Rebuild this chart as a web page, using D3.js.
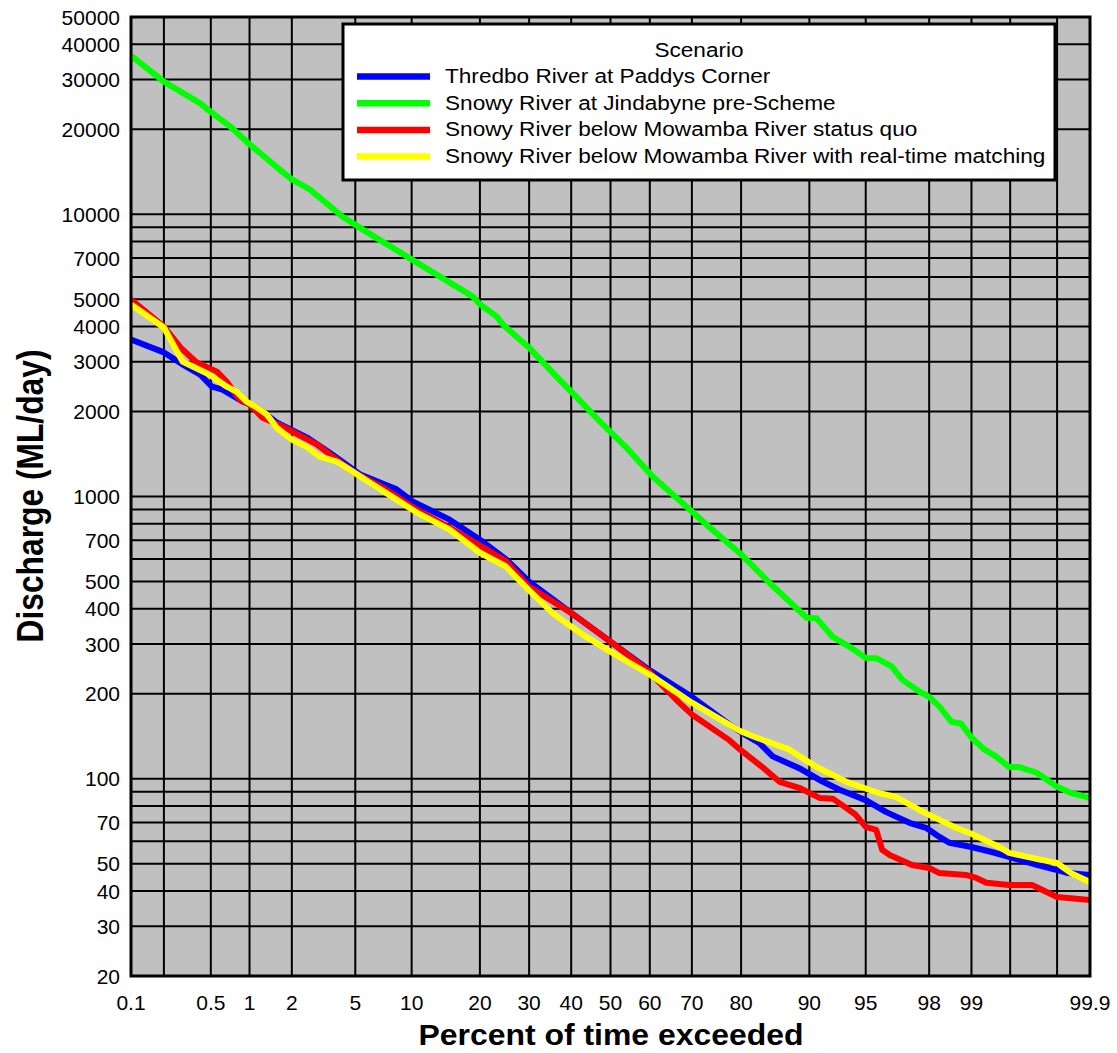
<!DOCTYPE html>
<html><head><meta charset="utf-8">
<script src="https://cdn.jsdelivr.net/npm/d3@7"></script>
<style>body{margin:0;background:#fff}text{font-family:"Liberation Sans",Arial,sans-serif}</style>
</head><body><svg id="c" width="1117" height="1053"></svg>
<script>
// ---------- data ----------
const seriesNames = [
  "Thredbo River at Paddys Corner",
  "Snowy River at Jindabyne pre-Scheme",
  "Snowy River below Mowamba River status quo",
  "Snowy River below Mowamba River with real-time matching"
];
const seriesColors = ["#0000ff", "#00ff00", "#ff0000", "#ffff00"];

// [percent of time exceeded, discharge ML/day]
const thredbo = [[0.1,3600],[0.2,3240],[0.29,2940],[0.41,2700],[0.51,2450],[0.62,2390],[0.89,2170],[1.13,2070],[1.57,1830],[2.51,1620],[3.52,1430],[5.3,1200],[8.4,1060],[10.1,960],[15,828],[20,703],[25,600],[30,499],[40,387],[50,306],[60,242],[70,195],[78.4,153],[80,146],[83.1,134],[85.2,120],[88.8,109],[91.1,99],[93,91.4],[95,84],[96.2,76.3],[97.3,69.8],[97.9,67],[98.3,62.2],[98.55,59.3],[99,57.3],[99.3,55],[99.52,52.4],[99.7,49.5],[99.8,47.5],[99.84,46.3],[99.9,45.6]];
const preScheme = [[0.1,36500],[0.2,29500],[0.41,24700],[0.49,23200],[0.71,20500],[1,17700],[1.65,14400],[2,13300],[2.63,12250],[4.2,9820],[5.5,8840],[9.8,6980],[14,5930],[18.7,5120],[20,4800],[23.2,4340],[24.4,4070],[27.9,3600],[30,3370],[36.4,2660],[42,2200],[48,1800],[54.1,1490],[60.7,1177],[68.8,920],[74.4,763],[79.7,632],[84.7,495],[89.7,372],[90.8,370],[92.4,318],[93.8,294],[95,268],[95.7,267],[96.5,250],[97,224],[97.7,203],[98,195],[98.3,180],[98.6,159],[98.8,157],[99,140],[99.2,127],[99.35,120],[99.49,110],[99.58,110],[99.7,105],[99.8,93.6],[99.85,89],[99.9,85.5]];
const statusQuo = [[0.1,4990],[0.2,4000],[0.28,3370],[0.38,2990],[0.56,2770],[0.67,2550],[0.84,2210],[1,2120],[1.25,1900],[1.73,1770],[2.92,1530],[3.67,1385],[4.84,1225],[7.1,1075],[10.6,898],[15,776],[20,670],[25,590],[30,479],[40,387],[50,306],[60,239],[62.4,219],[67.1,186],[70,169],[77.8,137],[80,126],[83.6,110],[86.2,97.5],[88.8,92.9],[91.1,85.5],[92.4,85],[93.2,80.8],[94.3,74.5],[95,67.5],[95.66,65.9],[96,56],[96.4,53.7],[97.4,49.5],[98,48.3],[98.3,46.3],[98.9,45.6],[99.08,44.5],[99.23,42.8],[99.49,42],[99.67,42],[99.8,38.1],[99.9,37.2]];
const realTime = [[0.1,4790],[0.2,3970],[0.29,3010],[0.49,2700],[0.67,2450],[0.8,2350],[0.95,2170],[1.13,2070],[1.34,1950],[1.57,1755],[2,1590],[2.51,1500],[3.05,1385],[3.89,1330],[4.64,1245],[6.03,1120],[8.4,975],[10.6,877],[15,763],[20,632],[25,565],[27.3,515],[30,465],[35.4,387],[40,346],[43.8,318],[50,282],[52.3,270],[60,234],[70,186],[78.4,153],[80,147],[82.6,140],[87.5,127],[90.8,110],[93.6,97.5],[95.8,89],[96.7,86.2],[97.8,76.3],[98.3,71.5],[98.7,67],[99,63.8],[99.39,57.3],[99.49,54.6],[99.67,52.4],[99.8,50.3],[99.85,46.3],[99.9,43]];

// axis ticks / grid
const xTickLabels = [0.1,0.5,1,2,5,10,20,30,40,50,60,70,80,90,95,98,99,99.9];
const xGridValues = [0.2,0.5,1,2,5,10,20,30,40,50,60,70,80,90,95,98,99,99.5,99.8];
const yTickLabels = [20,30,40,50,70,100,200,300,400,500,700,1000,2000,3000,4000,5000,7000,10000,20000,30000,40000,50000];
const yGridValues = [30,40,50,60,70,80,90,100,200,300,400,500,600,700,800,900,1000,2000,3000,4000,5000,6000,7000,8000,9000,10000,20000,30000,40000];

// ---------- helpers ----------
function qnorm(p){
  const a=[-3.969683028665376e+01,2.209460984245205e+02,-2.759285104469687e+02,1.383577518672690e+02,-3.066479806614716e+01,2.506628277459239e+00];
  const b=[-5.447609879822406e+01,1.615858368580409e+02,-1.556989798598866e+02,6.680131188771972e+01,-1.328068155288572e+01];
  const c=[-7.784894002430293e-03,-3.223964580411365e-01,-2.400758277161838e+00,-2.549732539343734e+00,4.374664141464968e+00,2.938163982698783e+00];
  const d=[7.784695709041462e-03,3.224671290700398e-01,2.445134137142996e+00,3.754408661907416e+00];
  const pl=0.02425, ph=1-pl; let q,r;
  if(p<pl){q=Math.sqrt(-2*Math.log(p));return (((((c[0]*q+c[1])*q+c[2])*q+c[3])*q+c[4])*q+c[5])/((((d[0]*q+d[1])*q+d[2])*q+d[3])*q+1);}
  if(p<=ph){q=p-0.5;r=q*q;return (((((a[0]*r+a[1])*r+a[2])*r+a[3])*r+a[4])*r+a[5])*q/(((((b[0]*r+b[1])*r+b[2])*r+b[3])*r+b[4])*r+1);}
  q=Math.sqrt(-2*Math.log(1-p));return -(((((c[0]*q+c[1])*q+c[2])*q+c[3])*q+c[4])*q+c[5])/((((d[0]*q+d[1])*q+d[2])*q+d[3])*q+1);
}

const L=131, R=1090, T=17, B=976;
const zScale = d3.scaleLinear().domain([qnorm(0.001), qnorm(0.999)]).range([L, R]);
const x = p => zScale(qnorm(p/100));
const y = d3.scaleLog().domain([20, 50000]).range([B, T]);

const svg = d3.select("#c");
svg.append("rect").attr("width",1117).attr("height",1053).attr("fill","#fff");
svg.append("defs").append("clipPath").attr("id","clip")
  .append("rect").attr("x",L).attr("y",T).attr("width",R-L).attr("height",B-T);

svg.append("rect").attr("x",L).attr("y",T).attr("width",R-L).attr("height",B-T).attr("fill","#c0c0c0");

// grid
const grid = svg.append("g").attr("stroke","#000").attr("stroke-width",2);
grid.selectAll("line.v").data(xGridValues).join("line")
  .attr("x1",d=>x(d)).attr("x2",d=>x(d)).attr("y1",T).attr("y2",B);
grid.selectAll("line.h").data(yGridValues).join("line")
  .attr("y1",d=>y(d)).attr("y2",d=>y(d)).attr("x1",L).attr("x2",R);

// curves
const allSeries = [thredbo, preScheme, statusQuo, realTime];
const line = d3.line().x(d=>x(d[0])).y(d=>y(d[1]));
const lg = svg.append("g").attr("clip-path","url(#clip)");
allSeries.forEach((s,i)=>{
  lg.append("path").attr("d",line(s)).attr("fill","none")
    .attr("stroke",seriesColors[i]).attr("stroke-width",6)
    .attr("stroke-linejoin","round").attr("stroke-linecap","butt");
});

// border
svg.append("rect").attr("x",L).attr("y",T).attr("width",R-L).attr("height",B-T)
  .attr("fill","none").attr("stroke","#000").attr("stroke-width",3);

// y tick labels
svg.append("g").selectAll("text").data(yTickLabels).join("text")
  .attr("x",120).attr("y",d=>y(d)).attr("dy","0.36em").attr("text-anchor","end")
  .attr("font-size",21).attr("fill","#000").text(d=>d);

// x tick labels
svg.append("g").selectAll("text").data(xTickLabels).join("text")
  .attr("x",d=>x(d)).attr("y",1010).attr("text-anchor","middle")
  .attr("font-size",21).attr("fill","#000").text(d=>d);

function fit(t, w){ t.attr("textLength", w).attr("lengthAdjust","spacingAndGlyphs"); }

// axis titles
const xt = svg.append("text").attr("x",611).attr("y",1045).attr("text-anchor","middle")
  .attr("font-size",30).attr("font-weight","bold").text("Percent of time exceeded");
fit(xt, 385);
const yt = svg.append("text").attr("transform","translate(43,496) rotate(-90)").attr("text-anchor","middle")
  .attr("font-size",37).attr("font-weight","bold").text("Discharge (ML/day)");
fit(yt, 293);

// legend
const leg = svg.append("g");
leg.append("rect").attr("x",343).attr("y",24).attr("width",712).attr("height",156)
  .attr("fill","#fff").attr("stroke","#000").attr("stroke-width",3);
function stretch(t){ const w=t.node().getComputedTextLength(); fit(t, w*1.13); }
const title = leg.append("text").attr("x",699).attr("y",57).attr("text-anchor","middle")
  .attr("font-size",20).text("Scenario");
stretch(title);
seriesNames.forEach((n,i)=>{
  const yy = 83 + i*26.7;
  leg.append("line").attr("x1",357).attr("x2",430).attr("y1",yy-6.5).attr("y2",yy-6.5)
    .attr("stroke",seriesColors[i]).attr("stroke-width",6.5);
  const t = leg.append("text").attr("x",445).attr("y",yy).attr("font-size",20).text(n);
  stretch(t);
});
</script></body></html>
